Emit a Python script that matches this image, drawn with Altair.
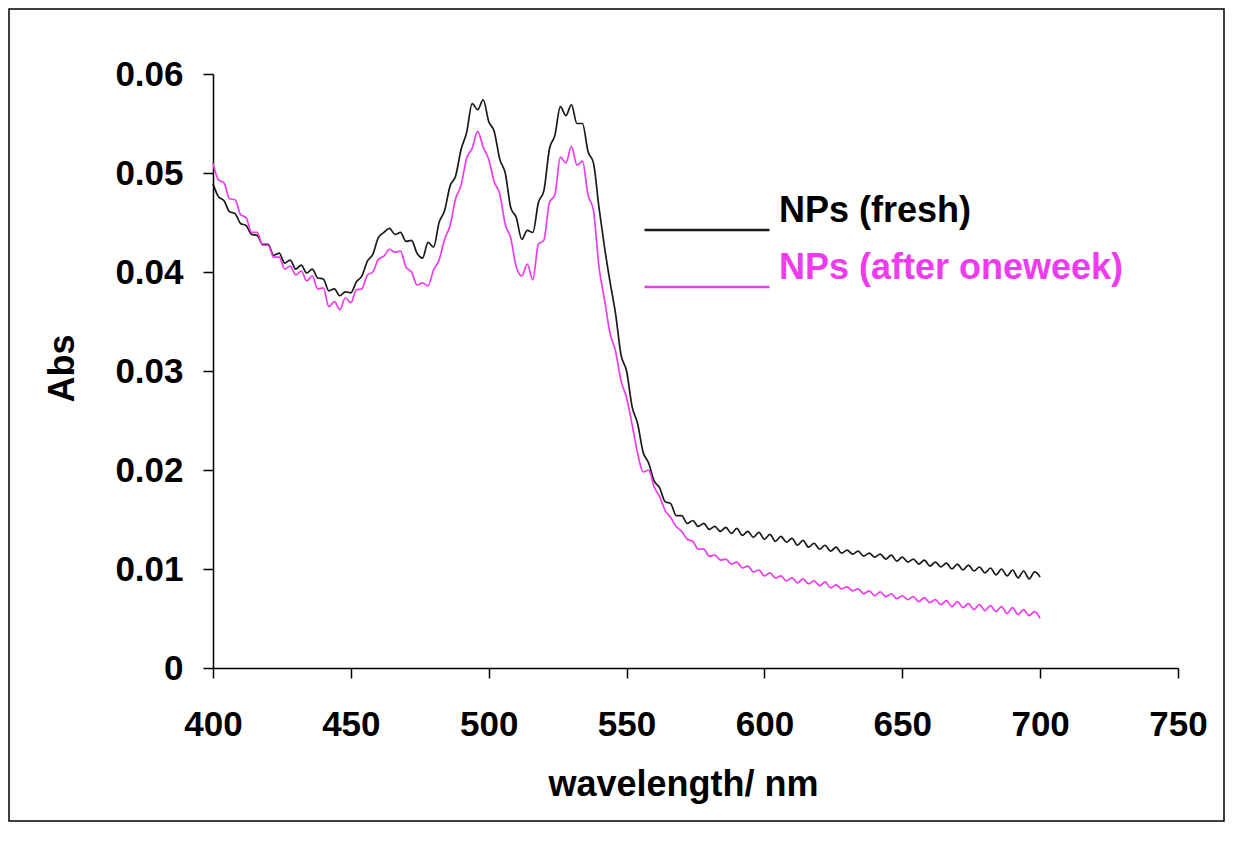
import altair as alt
import pandas as pd

# ---------------- data ----------------
wavelength = list(range(400, 701, 2))

abs_fresh = [
    0.0489, 0.0476, 0.0472, 0.0461, 0.0459, 0.0449, 0.0447, 0.0438, 0.0437, 0.0428,
    0.0428, 0.0417, 0.0419, 0.0409, 0.0412, 0.0403, 0.0407, 0.0399, 0.0403, 0.0394,
    0.0393, 0.0381, 0.0383, 0.0376, 0.0380, 0.0379, 0.0390, 0.0396, 0.0411, 0.0418,
    0.0435, 0.0440, 0.0444, 0.0438, 0.0440, 0.0431, 0.0432, 0.0419, 0.0414, 0.0430,
    0.0425, 0.0450, 0.0462, 0.0487, 0.0497, 0.0524, 0.0541, 0.0570, 0.0564, 0.0574,
    0.0552, 0.0542, 0.0514, 0.0500, 0.0465, 0.0455, 0.0433, 0.0442, 0.0440, 0.0470,
    0.0482, 0.0524, 0.0538, 0.0567, 0.0558, 0.0569, 0.0550, 0.0550, 0.0522, 0.0510,
    0.0465, 0.0425, 0.0390, 0.0358, 0.0316, 0.0300, 0.0264, 0.0247, 0.0218, 0.0207,
    0.0189, 0.0182, 0.0168, 0.0166, 0.0154, 0.0154, 0.0146, 0.0149, 0.0143, 0.0146,
    0.0140, 0.0143, 0.0138, 0.0142, 0.0136, 0.0141, 0.0134, 0.0138, 0.0132, 0.0137,
    0.0130, 0.0135, 0.0128, 0.0133, 0.0127, 0.0131, 0.0124, 0.0129, 0.0122, 0.0126,
    0.0120, 0.0124, 0.0118, 0.0122, 0.0116, 0.0119, 0.0115, 0.0118, 0.0113, 0.0116,
    0.0112, 0.0115, 0.0110, 0.0114, 0.0108, 0.0112, 0.0107, 0.0110, 0.0105, 0.0109,
    0.0103, 0.0107, 0.0102, 0.0106, 0.0100, 0.0105, 0.0099, 0.0104, 0.0098, 0.0102,
    0.0096, 0.0101, 0.0094, 0.0100, 0.0093, 0.0099, 0.0091, 0.0098, 0.0090, 0.0097,
    0.0092,
]

abs_week = [
    0.0510, 0.0493, 0.0490, 0.0474, 0.0473, 0.0458, 0.0455, 0.0440, 0.0440, 0.0427,
    0.0427, 0.0415, 0.0415, 0.0403, 0.0406, 0.0397, 0.0401, 0.0391, 0.0396, 0.0383,
    0.0384, 0.0365, 0.0370, 0.0362, 0.0374, 0.0369, 0.0382, 0.0383, 0.0397, 0.0400,
    0.0413, 0.0416, 0.0423, 0.0420, 0.0421, 0.0405, 0.0400, 0.0387, 0.0389, 0.0386,
    0.0402, 0.0412, 0.0433, 0.0447, 0.0474, 0.0488, 0.0515, 0.0525, 0.0542, 0.0526,
    0.0514, 0.0491, 0.0479, 0.0448, 0.0434, 0.0405, 0.0396, 0.0408, 0.0392, 0.0428,
    0.0432, 0.0470, 0.0478, 0.0516, 0.0510, 0.0527, 0.0508, 0.0512, 0.0478, 0.0462,
    0.0405, 0.0372, 0.0338, 0.0320, 0.0290, 0.0273, 0.0246, 0.0217, 0.0198, 0.0200,
    0.0183, 0.0173, 0.0159, 0.0152, 0.0143, 0.0138, 0.0130, 0.0128, 0.0120, 0.0120,
    0.0113, 0.0114, 0.0109, 0.0110, 0.0105, 0.0107, 0.0101, 0.0103, 0.0097, 0.0099,
    0.0093, 0.0096, 0.0091, 0.0093, 0.0088, 0.0091, 0.0086, 0.0090, 0.0085, 0.0088,
    0.0083, 0.0087, 0.0081, 0.0084, 0.0080, 0.0082, 0.0078, 0.0080, 0.0075, 0.0078,
    0.0073, 0.0077, 0.0072, 0.0075, 0.0070, 0.0073, 0.0069, 0.0072, 0.0067, 0.0071,
    0.0066, 0.0069, 0.0064, 0.0068, 0.0062, 0.0067, 0.0061, 0.0065, 0.0059, 0.0064,
    0.0058, 0.0063, 0.0057, 0.0062, 0.0055, 0.0061, 0.0054, 0.0059, 0.0053, 0.0057,
    0.0050,
]

series_names = ["NPs (fresh)", "NPs (after oneweek)"]
series_colors = ["#1a1a1a", "#ee3bee"]
x_ticks = [400, 450, 500, 550, 600, 650, 700, 750]
y_ticks = [0, 0.01, 0.02, 0.03, 0.04, 0.05, 0.06]

rows = []
for name, vals in zip(series_names, [abs_fresh, abs_week]):
    for w, v in zip(wavelength, vals):
        rows.append({"wavelength": w, "Abs": v, "series": name})
df = pd.DataFrame(rows)

# ---------------- layout ----------------
FONT = "Liberation Sans"
PAD_L, PAD_T, PAD_R, PAD_B = 205, 66, 47, 154
W, H = 965, 594

lines = alt.Chart(df).mark_line(strokeWidth=1.7, interpolate="monotone").encode(
    x=alt.X(
        "wavelength:Q",
        scale=alt.Scale(domain=[400, 750], nice=False, zero=False),
        axis=alt.Axis(
            values=x_ticks, format="d", title="wavelength/ nm",
            titleX=470, titleY=127, titleBaseline="alphabetic", titleAnchor="start",
            titleAlign="center",
            labelPadding=29, labelFlush=False,
        ),
    ),
    y=alt.Y(
        "Abs:Q",
        scale=alt.Scale(domain=[0, 0.06], nice=False),
        axis=alt.Axis(
            values=y_ticks,
            labelExpr="datum.value == 0 ? '0' : format(datum.value, '.2f')",
            title="Abs", titleAngle=270, titleX=-140, titleY=294,
            titleBaseline="alphabetic", titleAlign="center", titleAnchor="start",
            labelPadding=20, labelFlush=False,
        ),
    ),
    color=alt.Color(
        "series:N",
        scale=alt.Scale(domain=series_names, range=series_colors),
        legend=alt.Legend(
            title=None, orient="none", legendX=430, legendY=136,
            symbolType="stroke", symbolSize=15625, symbolStrokeWidth=2.5,
            labelFont=FONT, labelFontSize=36, labelFontWeight="bold",
            labelBaseline="bottom", labelOffset=8, labelLimit=0,
            clipHeight=40, rowPadding=0, padding=0,
            labelColor={"expr": "datum.value == 'NPs (fresh)' ? '#000000' : '#ee3bee'"},
        ),
    ),
)

frame = alt.Chart(pd.DataFrame({"k": [0]})).mark_rect(
    fill="transparent", stroke="#000000", strokeWidth=1.5
).encode(
    x=alt.value(-PAD_L + 1), x2=alt.value(W + PAD_R - 1),
    y=alt.value(-PAD_T + 1), y2=alt.value(H + PAD_B - 1),
)

chart = alt.layer(frame, lines).properties(
    width=W, height=H,
    autosize=alt.AutoSizeParams(type="none"),
    padding={"left": PAD_L, "top": PAD_T, "right": PAD_R, "bottom": PAD_B},
    background="white",
).configure_view(stroke=None).configure_axis(
    grid=False,
    domainColor="#000000", domainWidth=1.5,
    tickColor="#000000", tickWidth=1.5, tickSize=10,
    labelFont=FONT, labelFontSize=35, labelFontWeight="bold", labelColor="#000000",
    titleFont=FONT, titleFontSize=36, titleFontWeight="bold", titleColor="#000000",
)

chart.save("out.html", embed_options={"renderer": "svg", "actions": False})
